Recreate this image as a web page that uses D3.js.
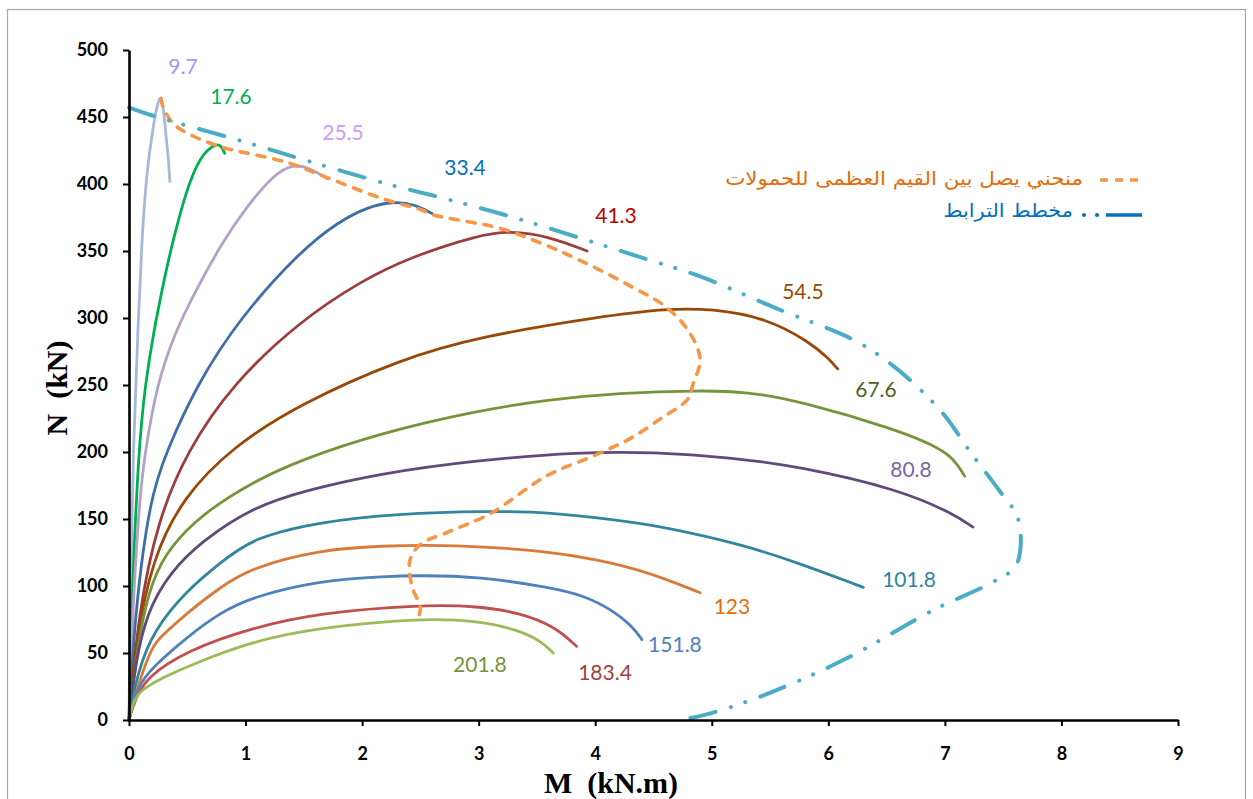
<!DOCTYPE html>
<html>
<head>
<meta charset="utf-8">
<script src="https://cdn.jsdelivr.net/npm/d3@7/dist/d3.min.js"></script>
<style>
  html, body { margin: 0; padding: 0; background: #fff; }
  svg { display: block; }
</style>
</head>
<body>
<svg id="chart" width="1253" height="799"></svg>
<script>
// ---------------- DATA ----------------
const xTicks = [0, 1, 2, 3, 4, 5, 6, 7, 8, 9];
const yTicks = [0, 50, 100, 150, 200, 250, 300, 350, 400, 450, 500];

const loadLabels = ["9.7", "17.6", "25.5", "33.4", "41.3", "54.5", "67.6", "80.8", "101.8", "123", "151.8", "183.4", "201.8"];

// [M (kN.m), N (kN)]
const c9_7 = [[0,0],[0.012,100],[0.035,200],[0.08,300],[0.11,358],[0.15,408],[0.21,445],[0.25,462],[0.275,466],[0.3,454],[0.32,433],[0.34,418],[0.35,402]];
const c17_6 = [[0,0],[0.02,80],[0.08,201],[0.14,251],[0.21,289],[0.3,328],[0.366,354],[0.49,395],[0.61,421],[0.74,430],[0.79,429],[0.82,423]];
const c25_5 = [[0,0],[0.03,80],[0.09,166],[0.14,201],[0.24,251],[0.4,290],[0.54,315],[0.795,356],[1.01,383],[1.24,407],[1.41,415],[1.55,412],[1.70,404]];
const c33_4 = [[0,0],[0.05,80],[0.18,166],[0.32,200],[0.58,250],[0.95,300],[1.47,350],[1.8,372],[2.05,383],[2.27,387],[2.45,385],[2.6,378]];
const c41_3 = [[0,0],[0.08,80],[0.25,150],[0.5,201],[0.89,251],[1.47,298],[2.0,328],[2.4,345],[3.0,362],[3.27,365],[3.6,361],[3.93,350]];
const c54_5 = [[0,0],[0.06,60],[0.2,120],[0.46,166],[0.89,204],[1.47,236],[2.32,269],[3.0,286],[4.04,301],[4.61,307],[5.0,307],[5.47,300],[5.84,282],[6.0,270],[6.08,262]];
const c67_6 = [[0,0],[0.09,67],[0.2,105],[0.35,129],[0.63,154],[1.07,178],[1.47,194],[2.15,214],[3.0,231],[3.59,239],[4.2,244],[4.9,246],[5.3,245],[5.76,238],[6.61,216],[6.9,205],[7.07,196],[7.17,182]];
const c80_8 = [[0,0],[0.05,40],[0.15,80],[0.35,110],[0.63,134],[1.07,159],[1.5,171],[2.15,184],[3.0,194],[3.87,200],[4.5,200],[5.16,196],[5.76,189],[6.61,172],[7.07,154],[7.24,144]];
const c101_8 = [[0,0],[0.07,35],[0.21,67],[0.5,97],[0.78,117],[1.06,136],[1.64,148],[2.3,154],[3.07,156],[3.61,155],[4.21,149],[4.6,144],[5.26,131],[5.75,117],[6.3,99]];
const c123 = [[0,0],[0.09,30],[0.2,55],[0.27,62],[0.5,80],[0.78,99],[1.06,114],[1.64,127],[2.15,130],[2.78,131],[3.59,126],[4.0,120],[4.44,111],[4.9,95]];
const c151_8 = [[0,0],[0.07,25],[0.21,40],[0.5,62],[0.78,80],[1.06,92],[1.64,104],[2.15,107],[2.5,108],[3.01,107],[3.61,99],[3.9,93],[4.15,82],[4.33,69],[4.4,60]];
const c183_4 = [[0,0],[0.05,15],[0.15,32],[0.5,52],[1.06,69],[1.64,80],[2.5,86],[3.0,85],[3.35,80],[3.65,70],[3.84,55]];
const c201_8 = [[0,0],[0.03,12],[0.09,22],[0.3,32],[0.5,40],[1.06,59],[1.64,69],[2.5,76],[3.0,74],[3.35,67],[3.55,58],[3.64,50]];

// envelope joining the maximum loads (orange dashed)
const envelope = [[0.275,464],[0.29,458],[0.38,445],[0.5,438],[0.78,428],[1.36,416],[1.75,403],[2.21,388],[2.5,381],[2.61,377],[3.18,367],[3.53,356],[3.87,343],[4.32,323],[4.61,308],[4.81,289],[4.9,269],[4.84,251],[4.79,239],[4.58,226],[4.3,210],[4.01,198],[3.58,182],[3.1,154],[2.73,140],[2.5,131],[2.41,119],[2.43,99],[2.5,84],[2.48,76]];

// interaction diagram (blue dash-dot-dot)
const interaction = [[0,457],[0.24,450],[0.93,433],[1.58,416],[2.26,399],[2.67,390],[3.3,375],[3.93,358],[4.4,345],[4.9,331],[5.56,307],[6.21,284],[6.5,268],[6.76,249],[7.0,227],[7.21,201],[7.46,172],[7.62,152],[7.65,130],[7.6,114],[7.39,102],[6.9,82],[6.18,47],[5.52,21],[4.99,5],[4.73,0]];

const curveColors = ["#a7b9d8","#00b050","#b3a2c7","#3f6ea7","#9c3e3e","#984807","#77933c","#604a7b","#31859c","#d9793a","#4f81bd","#c0504d","#9bbb59"];
const labelColors = ["#9999ff","#00b050","#cc99ff","#0070c0","#c00000","#984807","#4f6228","#8064a2","#31859c","#e46c0a","#4f81bd","#a0403e","#77933c"];
// label anchors in data space [M, N]
const labelAt = [[0.463,482],[0.875,460],[1.836,433],[2.883,407],[4.178,371],[5.782,314],[6.409,241],[6.709,181],[6.692,99],[5.173,79],[4.684,51],[4.084,30],[3.011,36]];

const legendEnvelope = "منحني يصل بين القيم العظمى للحمولات";
const legendInteraction = "مخطط الترابط";
const xTitle = "M  (kN.m)";
const yTitle = "N  (kN)";

const curveData = [c9_7, c17_6, c25_5, c33_4, c41_3, c54_5, c67_6, c80_8, c101_8, c123, c151_8, c183_4, c201_8];

// ---------------- LAYOUT ----------------
const svg = d3.select("#chart");
const x = d3.scaleLinear().domain([0, 9]).range([129, 1178]);
const y = d3.scaleLinear().domain([0, 500]).range([720, 50]);

// outer border
svg.append("rect").attr("x", 7.5).attr("y", 9.5).attr("width", 1238).attr("height", 820)
  .attr("fill", "none").attr("stroke", "#a6a6a6").attr("stroke-width", 1.2);

const loadLine = d3.line().x(d => x(d[0])).y(d => y(d[1])).curve(d3.curveBasis);
const line = d3.line().x(d => x(d[0])).y(d => y(d[1])).curve(d3.curveCatmullRom.alpha(0.5));

// curves
const gCurves = svg.append("g");
curveData.forEach((pts, i) => {
  gCurves.append("path").attr("d", loadLine(pts)).attr("fill", "none")
    .attr("stroke", curveColors[i]).attr("stroke-width", 2.8)
    .attr("stroke-linecap", "round").attr("stroke-linejoin", "round");
});

// envelope
svg.append("path").attr("d", line(envelope)).attr("fill", "none")
  .attr("stroke", "#f79646").attr("stroke-width", 3.6)
  .attr("stroke-dasharray", "8,9").attr("stroke-linecap", "round");

// interaction diagram
svg.append("path").attr("d", line(interaction)).attr("fill", "none")
  .attr("stroke", "#4bacc6").attr("stroke-width", 4)
  .attr("stroke-dasharray", "26,16,0.1,15,0.1,16").attr("stroke-linecap", "round");

// labels
loadLabels.forEach((t, i) => {
  svg.append("text").attr("x", x(labelAt[i][0])).attr("y", y(labelAt[i][1]))
    .attr("text-anchor", "middle").attr("fill", labelColors[i])
    .style("font-family", "Lato, 'Open Sans', sans-serif").style("font-size", "21px")
    .text(t);
});

// axes
const xAxis = d3.axisBottom(x).tickValues(xTicks).tickSize(6).tickSizeOuter(0).tickPadding(21).tickFormat(d3.format("d"));
const yAxis = d3.axisLeft(y).tickValues(yTicks).tickSize(6).tickSizeOuter(0).tickPadding(15).tickFormat(d3.format("d"));

const gx = svg.append("g").attr("transform", "translate(0,720)").call(xAxis);
const gy = svg.append("g").attr("transform", "translate(129,0)").call(yAxis);
[gx, gy].forEach(g => {
  g.select(".domain").attr("stroke", "#000").attr("stroke-width", 2.6);
  g.selectAll(".tick line").attr("stroke", "#000").attr("stroke-width", 2);
  g.selectAll(".tick text").attr("fill", "#000")
    .style("font-family", "Lato, 'Open Sans', sans-serif").style("font-size", "18px").style("font-weight", "bold");
});

// axis titles
svg.append("text").attr("x", 611).attr("y", 793).attr("text-anchor", "middle")
  .style("font-family", "'Liberation Serif', 'Times New Roman', serif").style("font-size", "30px")
  .style("font-weight", "bold").style("white-space", "pre").text(xTitle);
svg.append("text").attr("transform", "translate(67,388) rotate(-90)").attr("text-anchor", "middle")
  .style("font-family", "'Liberation Serif', 'Times New Roman', serif").style("font-size", "30px")
  .style("font-weight", "bold").style("white-space", "pre").text(yTitle);

// legend
function legendText(str, rightX, baseY, targetW, color) {
  const t = svg.append("text").attr("x", 0).attr("y", 0).attr("text-anchor", "end")
    .attr("fill", color).style("font-family", "'DejaVu Sans', sans-serif").style("font-size", "19px")
    .text(str);
  const w = t.node().getComputedTextLength();
  const s = w > 0 ? targetW / w : 1;
  t.attr("transform", `translate(${rightX},${baseY}) scale(${s},1)`);
}
legendText(legendEnvelope, 1083, 185, 358, "#e46c0a");
legendText(legendInteraction, 1073, 217, 130, "#0070c0");

svg.append("line").attr("x1", 1100).attr("x2", 1142).attr("y1", 180).attr("y2", 180)
  .attr("stroke", "#f79646").attr("stroke-width", 3.6).attr("stroke-dasharray", "8,7");
const lg2 = svg.append("g");
lg2.append("line").attr("x1", 1106).attr("x2", 1142).attr("y1", 215).attr("y2", 215)
  .attr("stroke", "#0070c0").attr("stroke-width", 3.4);
[1084, 1097].forEach(cx => lg2.append("circle").attr("cx", cx).attr("cy", 215).attr("r", 2).attr("fill", "#0070c0"));
</script>
</body>
</html>
